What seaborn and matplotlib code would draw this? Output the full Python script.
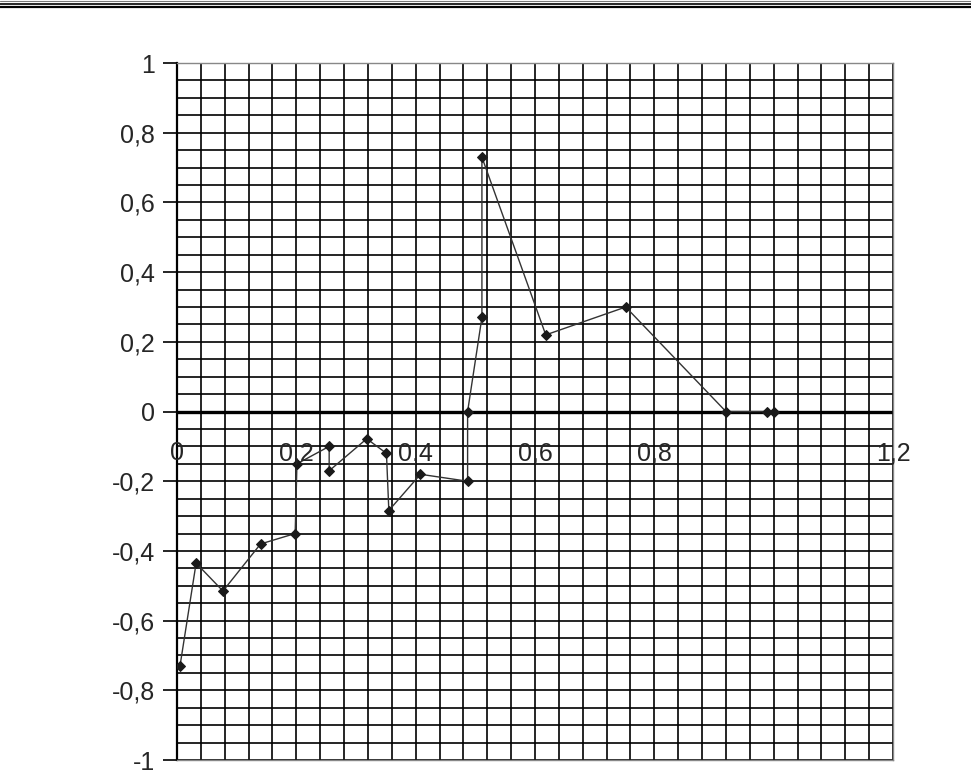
import numpy as np
import pandas as pd
import matplotlib.pyplot as plt
from matplotlib.lines import Line2D
import seaborn as sns

# points, in drawing order
x_vals = [0.005, 0.032, 0.077, 0.140, 0.198, 0.201, 0.255, 0.255, 0.318, 0.351, 0.355,
          0.408, 0.487, 0.487, 0.511, 0.511, 0.618, 0.752, 0.920, 0.988, 1.000]
y_vals = [-0.73, -0.435, -0.515, -0.38, -0.35, -0.15, -0.10, -0.17, -0.078, -0.12, -0.284,
          -0.18, -0.20, 0.0, 0.27, 0.73, 0.22, 0.30, 0.0, 0.0, 0.0]

x_tick_pos = [0, 0.2, 0.4, 0.6, 0.8, 1.0, 1.2]
x_tick_labels = ['0', '0,2', '0,4', '0,6', '0,8', '', '1,2']
y_tick_pos = [-1, -0.8, -0.6, -0.4, -0.2, 0, 0.2, 0.4, 0.6, 0.8, 1]
y_tick_labels = ['-1', '-0,8', '-0,6', '-0,4', '-0,2', '0', '0,2', '0,4', '0,6', '0,8', '1']

sns.set_style('white')
plt.rcParams['font.family'] = ['Liberation Sans', 'DejaVu Sans']

df = pd.DataFrame({'x': x_vals, 'y': y_vals})

fig = plt.figure(figsize=(9.71, 7.72), dpi=100)
ax = fig.add_axes([0.1823, 0.0155, 0.7374, 0.9028])

ax.set_xlim(0, 1.2)
ax.set_ylim(-1, 1)
ax.set_xticks(x_tick_pos)
ax.set_xticks(np.arange(0, 1.2001, 0.04), minor=True)
ax.set_yticks(y_tick_pos)
ax.set_yticklabels(y_tick_labels, fontsize=18)
ax.set_yticks(np.arange(-1, 1.0001, 0.05), minor=True)
ax.tick_params(axis='x', which='both', length=0, labelbottom=False)
ax.tick_params(axis='y', which='major', length=10, width=1.2, direction='out',
               color='black', pad=6, left=True)
ax.tick_params(axis='y', which='minor', length=0)

ax.set_axisbelow(True)
ax.grid(which='both', color='black', linewidth=1.2)
ax.axhline(0, color='black', linewidth=2.4, zorder=2)

sns.lineplot(data=df, x='x', y='y', sort=False, estimator=None, ax=ax,
             color='#333333', linewidth=1.0, marker='D', markersize=5.5,
             markerfacecolor='#1a1a1a', markeredgecolor='#1a1a1a', zorder=3)
ax.set_xlabel('')
ax.set_ylabel('')

for xp, lab in zip(x_tick_pos, x_tick_labels):
    ax.text(xp, -0.12, lab, ha='center', va='center', fontsize=18, zorder=4)

for side in ['top', 'right', 'bottom']:
    ax.spines[side].set_color('#888888')
    ax.spines[side].set_linewidth(1.0)
ax.spines['left'].set_color('black')
ax.spines['left'].set_linewidth(1.6)

# page header rules at the very top
for yy, lw, col in [(1 - 1 / 772, 0.8, '#777777'), (1 - 3.7 / 772, 1.2, 'black'),
                    (1 - 6.7 / 772, 1.6, 'black')]:
    fig.add_artist(Line2D([0, 1], [yy, yy], color=col, linewidth=lw))

fig.savefig('out.png', dpi=100)
